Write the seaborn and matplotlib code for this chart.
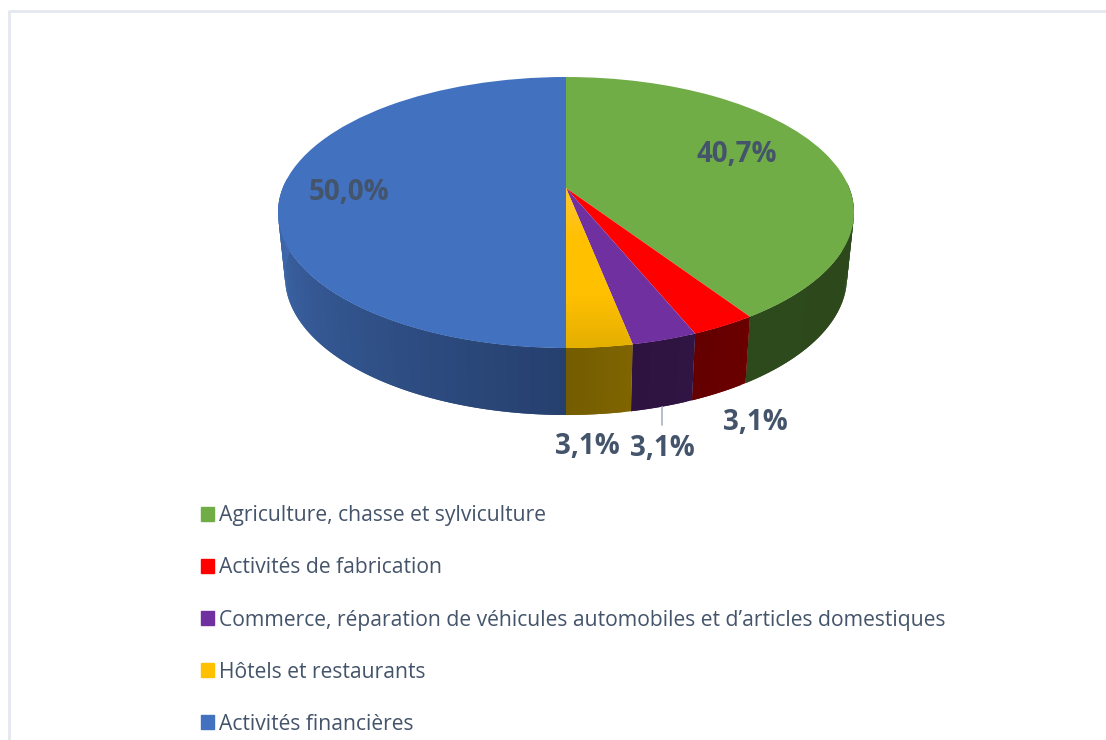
import numpy as np
import matplotlib
matplotlib.use("Agg")
import matplotlib.pyplot as plt
from matplotlib.colors import ListedColormap
from matplotlib.patches import Patch
from matplotlib.transforms import Transform
import seaborn as sns

categories = ["Agriculture, chasse et sylviculture", "Activités de fabrication",
              "Commerce, réparation de véhicules automobiles et d’articles domestiques",
              "Hôtels et restaurants", "Activités financières"]
shares = [40.7, 3.1, 3.1, 3.1, 50.0]
colors = ["#70AD47", "#FF0000", "#7030A0", "#FFC000", "#4271C0"]
# colour of the side wall, at the start and end of each slice
side_start = ["#2B451B", "#6A0000", "#301443", "#7F6400", "#26406E"]
side_end = ["#2D4A1C", "#640000", "#2E1340", "#745C00", "#5893EE"]
label_xy = [(737, 154), (755, 422), (662, 448), (587, 447), (349, 192)]

TEXT = "#44546A"
CX, K = 566, 0.181
TOP = (212.5, 288, 135.5)   # ellipse centre y, rx, ry in pixels
BOTTOM = (277, 281, 138)


def project(u, v, ell=TOP):
    # perspective view of the unit disc, gives pixels
    cy, rx, ry = ell
    w = 1 + K * v
    return CX + rx * np.sqrt(1 - K ** 2) * u / w, cy - ry * (v + K) / w


class Disc(Transform):
    input_dims = output_dims = 2

    def transform_non_affine(self, values):
        x, y = project(values[:, 0], values[:, 1])
        return np.column_stack([x, y])


sns.set_theme(style="white")
plt.rcParams["font.family"] = ["Open Sans", "DejaVu Sans"]

fig, ax = plt.subplots(figsize=(11.06, 7.40), dpi=100)
fig.subplots_adjust(0, 0, 1, 1)

wedges, _ = ax.pie(shares, colors=colors, startangle=90, counterclock=False)

# side wall first, only the part towards the viewer. strips overlap so no seams show
for w, c1, c2 in zip(wedges, side_start, side_end):
    n = max(int(w.theta2 - w.theta1), 2)
    theta = np.radians(np.linspace(w.theta2, w.theta1, n + 1))
    pal = sns.blend_palette([c1, c2], n)
    xt, yt = project(np.cos(theta), np.sin(theta), TOP)
    xb, yb = project(np.cos(theta), np.sin(theta), BOTTOM)
    for i in range(n):
        if np.sin(theta[i]) > 0.05:
            continue
        j = min(i + 2, n)
        ax.fill([xt[i], xt[j], xb[j], xb[i]], [yt[i], yt[j], yb[j], yb[i]],
                color=pal[i], lw=0, zorder=1)

for w in wedges:
    w.set_transform(Disc() + ax.transData)
    w.set_zorder(2)
    w.set_linewidth(0)

# the yellow slice fades downwards
grad = ListedColormap(sns.blend_palette(["#FFC832", "#FFC000", "#FFC000", "#E4AF00"], 64))
im = ax.imshow(np.linspace(0, 1, 64)[:, None], cmap=grad, extent=(540, 660, 350, 185),
               aspect="auto", zorder=3)
im.set_clip_path(wedges[3])

for v, (x, y) in zip(shares, label_xy):
    ax.text(x, y, f"{v:.1f}%".replace(".", ","), ha="center", va="center", color=TEXT,
            fontsize=20, fontweight="bold", zorder=5)

# leader line of the purple slice
ax.plot([662, 662], [407, 425], color="#ADB9CA", lw=1.3, zorder=4)

# thin frame, cut by the right and bottom of the picture
ax.plot([9, 9, 1106], [740, 11, 11], color="#E3E7EE", lw=2.0, zorder=0)

ax.set_aspect("auto")
ax.set_xlim(0, 1106)
ax.set_ylim(740, 0)
ax.axis("off")

handles = [Patch(color=c, label=l) for c, l in zip(colors, categories)]
ax.legend(handles=handles, loc="upper left", bbox_to_anchor=(193 / 1106, 1 - 497 / 740),
          frameon=False, fontsize=15.2, labelcolor=TEXT, handlelength=0.58, handleheight=0.6,
          handletextpad=0.24, labelspacing=1.47, borderpad=0, borderaxespad=0.4)

fig.savefig("out.png", dpi=100)
